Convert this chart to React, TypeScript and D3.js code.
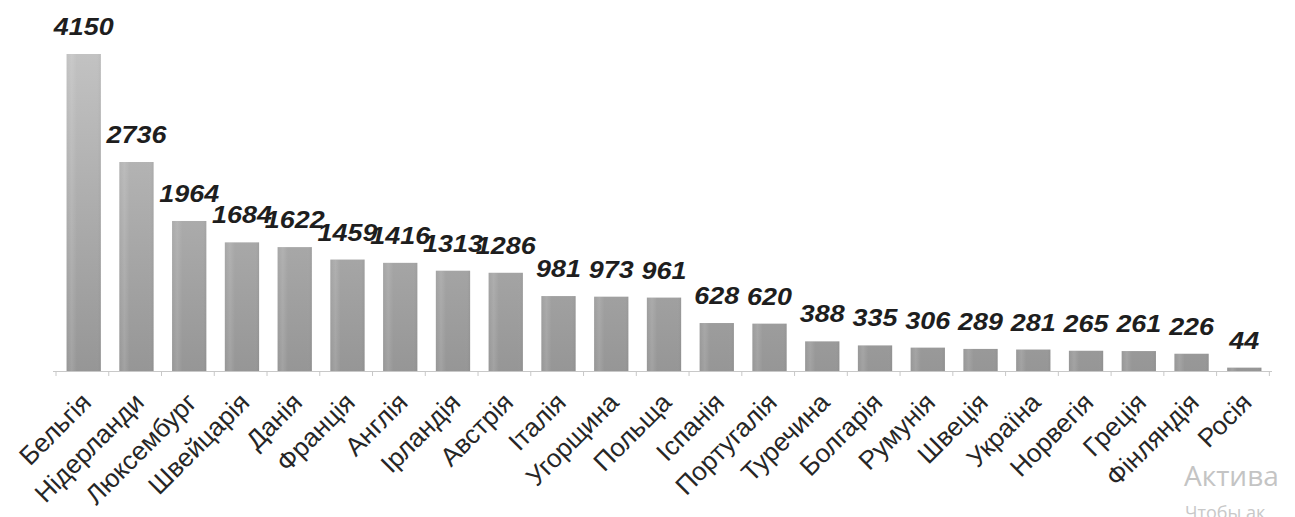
import React from "react";
import * as d3 from "d3";

const categories = [
  "Бельгія", "Нідерланди", "Люксембург", "Швейцарія", "Данія", "Франція",
  "Англія", "Ірландія", "Австрія", "Італія", "Угорщина", "Польща",
  "Іспанія", "Португалія", "Туречина", "Болгарія", "Румунія", "Швеція",
  "Україна", "Норвегія", "Греція", "Фінляндія", "Росія",
];
const values = [
  4150, 2736, 1964, 1684, 1622, 1459, 1416, 1313, 1286, 981, 973, 961,
  628, 620, 388, 335, 306, 289, 281, 265, 261, 226, 44,
];
const watermark = ["Актива", "Чтобы ак"];

const W = 1295;
const H = 517;
const left = 56;
const right = 1272;
const baseY = 371;
const topY = 54;
const SX = 1.12;

export default function App() {
  const x = d3
    .scaleBand<string>()
    .domain(categories)
    .range([left, right])
    .paddingInner(0.35)
    .paddingOuter(0.2);
  const y = d3.scaleLinear().domain([0, 4150]).range([baseY, topY]);
  const step = x.step();
  const tickXs = d3.range(categories.length + 1).map((i) => left + i * step);

  return (
    <svg
      width={W}
      height={H}
      style={{ position: "absolute", left: 0, top: 0, background: "#fff" }}
    >
      <defs>
        <linearGradient id="barGrad" gradientUnits="userSpaceOnUse" x1="0" y1={topY} x2="0" y2={baseY}>
          <stop offset="0" stopColor="#c2c2c2" />
          <stop offset="1" stopColor="#969696" />
        </linearGradient>
        <linearGradient id="barShine" x1="0" y1="0" x2="1" y2="0">
          <stop offset="0" stopColor="#ffffff" stopOpacity="0" />
          <stop offset="0.15" stopColor="#ffffff" stopOpacity="0.12" />
          <stop offset="0.3" stopColor="#ffffff" stopOpacity="0" />
          <stop offset="0.85" stopColor="#ffffff" stopOpacity="0" />
          <stop offset="1" stopColor="#000000" stopOpacity="0.05" />
        </linearGradient>
      </defs>

      {categories.map((c, i) => {
        const bx = x(c)!;
        const by = y(values[i]);
        const bh = baseY - by;
        return (
          <g key={c}>
            <rect x={bx} y={by} width={x.bandwidth()} height={bh} fill="url(#barGrad)" />
            <rect x={bx} y={by} width={x.bandwidth()} height={bh} fill="url(#barShine)" />
          </g>
        );
      })}

      <line x1={left - 3} x2={right} y1={baseY + 0.5} y2={baseY + 0.5} stroke="#c8c8c8" strokeWidth={1.2} />
      {tickXs.map((tx, i) => (
        <line key={i} x1={tx} x2={tx} y1={baseY} y2={baseY + 5} stroke="#c8c8c8" strokeWidth={1} />
      ))}

      {categories.map((c, i) => {
        const cx = x(c)! + x.bandwidth() / 2;
        return (
          <text
            key={"v" + c}
            transform={`translate(${cx},${y(values[i]) - 19}) scale(${SX},1)`}
            textAnchor="middle"
            fontFamily="'Liberation Sans', Arial, sans-serif"
            fontWeight="bold"
            fontStyle="italic"
            fontSize={24}
            fill="#1e1e1e"
          >
            {values[i]}
          </text>
        );
      })}

      {categories.map((c) => {
        const cx = x(c)! + x.bandwidth() / 2;
        return (
          <text
            key={"c" + c}
            transform={`translate(${cx + 9},${baseY + 33}) rotate(-45)`}
            textAnchor="end"
            fontFamily="'Liberation Sans', Arial, sans-serif"
            fontSize={26}
            fill="#262626"
          >
            {c}
          </text>
        );
      })}

      <text x={1184} y={486} fontFamily="'Open Sans', 'Noto Sans', sans-serif" fontSize={28} fill="#c4c4c4">
        {watermark[0]}
      </text>
      <text x={1185} y={519} fontFamily="'Open Sans', 'Noto Sans', sans-serif" fontSize={18} fill="#c8c8c8">
        {watermark[1]}
      </text>
    </svg>
  );
}
